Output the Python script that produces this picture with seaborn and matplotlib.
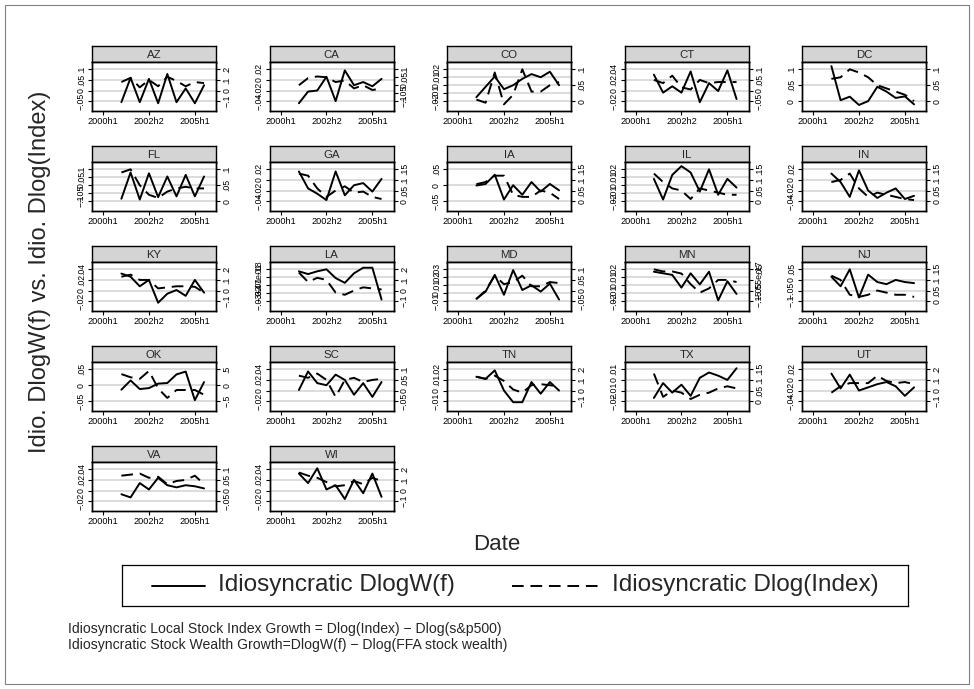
import matplotlib
matplotlib.use("Agg")
import matplotlib.pyplot as plt
import seaborn as sns
import pandas as pd
from matplotlib.patches import Rectangle

# ---------------- data ----------------
states = ["AZ", "CA", "CO", "CT", "DC", "FL", "GA", "IA", "IL", "IN", "KY",
          "LA", "MD", "MN", "NJ", "OK", "SC", "TN", "TX", "UT", "VA", "WI"]

# half-year index (0 = 2000h1)
periods = [2, 3, 4, 5, 6, 7, 8, 9, 10, 11]
xtick_pos = [0, 5, 10]
xtick_labels = ["2000h1", "2002h2", "2005h1"]

solid = {
    "AZ": [-0.055, 0.06, -0.055, 0.055, -0.06, 0.078, -0.055, 0.01, -0.06, 0.025],
    "CA": [-0.044, -0.022, -0.02, 0.006, -0.04, 0.018, -0.01, -0.004, -0.012, 0.002],
    "CO": [-0.015, -0.002, 0.011, -0.005, 0.0, 0.008, 0.014, 0.01, 0.017, 0.0],
    "CT": [0.03, -0.004, 0.008, -0.004, 0.036, -0.022, 0.014, -0.001, 0.038, -0.016],
    "DC": [0.11, 0.003, 0.014, -0.012, 0.0, 0.045, 0.03, 0.01, 0.015, -0.01],
    "FL": [-0.085, 0.08, -0.09, 0.075, -0.075, 0.055, -0.07, 0.065, -0.07, 0.055],
    "GA": [0.016, -0.016, -0.026, -0.038, 0.016, -0.029, -0.01, -0.006, -0.022, 0.002],
    "IA": [-0.001, 0.004, 0.033, -0.045, 0.0, -0.03, 0.01, -0.02, 0.004, -0.016],
    "IL": [0.008, -0.018, 0.013, 0.024, 0.016, -0.008, 0.02, -0.012, 0.008, -0.003],
    "IN": [0.012, -0.004, -0.032, 0.018, -0.02, -0.034, -0.024, -0.016, -0.036, -0.03],
    "KY": [0.032, 0.026, 0.008, 0.02, -0.023, -0.006, 0.001, -0.01, 0.02, -0.004],
    "LA": [0.0075, 0.004, 0.0075, 0.01, -0.001, -0.007, 0.005, 0.012, 0.012, -0.028],
    "MD": [-0.007, 0.002, 0.023, -0.002, 0.029, 0.004, 0.01, 0.002, 0.012, -0.008],
    "MN": [0.017, 0.015, 0.013, -0.003, 0.015, 0.001, 0.017, -0.019, 0.005, -0.011],
    "NJ": [0.015, -0.03, 0.05, -0.083, 0.025, -0.01, -0.02, 0.0, -0.01, -0.015],
    "OK": [-0.014, 0.015, -0.012, -0.009, 0.005, 0.007, 0.034, 0.043, -0.047, 0.01],
    "SC": [0.001, 0.036, 0.014, 0.01, 0.03, 0.02, -0.008, 0.014, -0.012, 0.016],
    "TN": [0.013, 0.011, 0.019, 0.0, -0.011, -0.011, 0.008, -0.003, 0.008, 0.0],
    "TX": [-0.017, -0.003, -0.012, -0.0045, -0.015, 0.002, 0.007, 0.004, 0.0, 0.011],
    "UT": [0.012, -0.016, 0.01, -0.02, -0.014, -0.008, -0.004, -0.012, -0.03, -0.014],
    "VA": [-0.007, -0.013, 0.014, 0.002, 0.024, 0.01, 0.006, 0.01, 0.008, 0.004],
    "WI": [0.032, 0.014, 0.042, 0.002, 0.01, -0.016, 0.02, -0.005, 0.032, -0.012],
}

dashed = {
    "AZ": [0.08, 0.12, 0.03, 0.1, 0.04, 0.13, 0.09, 0.04, 0.08, 0.07],
    "CA": [0.0, 0.045, 0.055, 0.05, 0.02, 0.03, -0.02, 0.0, -0.03, -0.02],
    "CO": [0.005, -0.005, 0.09, -0.01, 0.02, 0.1, 0.03, 0.03, 0.05, 0.06],
    "CT": [0.05, 0.035, 0.07, 0.015, 0.005, 0.05, 0.035, 0.04, 0.04, 0.04],
    "DC": [0.07, 0.075, 0.1, 0.09, 0.075, 0.05, 0.04, 0.03, 0.02, 0.0],
    "FL": [0.09, 0.1, 0.05, 0.02, 0.01, 0.03, 0.04, 0.045, 0.04, 0.04],
    "GA": [0.13, 0.12, 0.06, 0.02, 0.05, 0.07, 0.04, 0.045, 0.02, 0.01],
    "IA": [0.08, 0.09, 0.12, 0.12, 0.03, 0.02, 0.02, 0.05, 0.04, 0.01],
    "IL": [0.13, 0.09, 0.06, 0.05, 0.01, 0.06, 0.05, 0.04, 0.03, 0.03],
    "IN": [0.09, 0.1, 0.13, 0.06, 0.02, 0.04, 0.03, 0.02, 0.01, 0.005],
    "KY": [0.13, 0.15, 0.1, 0.1, 0.02, 0.03, 0.04, 0.04, 0.035, -0.02],
    "LA": [0.17, 0.08, 0.12, 0.1, -0.02, -0.04, 0.0, 0.03, 0.02, 0.01],
    "MD": [-0.04, 0.0, 0.07, 0.03, 0.04, 0.07, 0.02, 0.02, 0.04, 0.035],
    "MN": [0.05, 0.04, 0.04, 0.03, -0.02, -0.06, -0.04, 0.0, 0.0, -0.01],
    "NJ": [0.12, 0.1, 0.03, 0.02, 0.03, 0.05, 0.04, 0.03, 0.03, 0.02],
    "OK": [0.35, 0.25, 0.2, 0.45, -0.1, -0.4, -0.15, -0.15, -0.15, -0.3],
    "SC": [0.07, 0.06, 0.08, 0.05, -0.03, 0.05, 0.06, 0.04, 0.05, 0.055],
    "TN": [0.13, 0.11, 0.14, 0.09, 0.01, -0.02, 0.05, 0.06, 0.05, 0.04],
    "TX": [0.13, 0.02, 0.05, 0.04, 0.01, 0.03, 0.04, 0.06, 0.07, 0.06],
    "UT": [-0.02, 0.04, 0.07, 0.07, 0.07, 0.14, 0.09, 0.07, 0.08, 0.06],
    "VA": [0.07, 0.075, 0.08, 0.06, 0.065, 0.03, 0.045, 0.05, 0.07, 0.03],
    "WI": [0.17, 0.14, 0.12, 0.08, 0.04, 0.05, 0.09, 0.06, 0.12, 0.09],
}

left_ticks = {
    "AZ": [-0.05, 0, 0.05, 0.1], "CA": [-0.04, -0.02, 0, 0.02],
    "CO": [-0.02, -0.01, 0, 0.01, 0.02], "CT": [-0.02, 0, 0.02, 0.04],
    "DC": [0, 0.05, 0.1], "FL": [-0.1, -0.05, 0, 0.05, 0.1],
    "GA": [-0.04, -0.02, 0, 0.02], "IA": [-0.05, 0, 0.05],
    "IL": [-0.02, -0.01, 0, 0.01, 0.02], "IN": [-0.04, -0.02, 0, 0.02],
    "KY": [-0.02, 0, 0.02, 0.04], "LA": [-0.03, -0.02, -0.01, 3.47e-18, 0.01],
    "MD": [-0.01, 0, 0.01, 0.02, 0.03], "MN": [-0.02, -0.01, 0, 0.01, 0.02],
    "NJ": [-0.1, -0.05, 0, 0.05], "OK": [-0.05, 0, 0.05],
    "SC": [-0.02, 0, 0.02, 0.04], "TN": [-0.01, 0, 0.01, 0.02],
    "TX": [-0.02, -0.01, 0, 0.01], "UT": [-0.04, -0.02, 0, 0.02],
    "VA": [-0.02, 0, 0.02, 0.04], "WI": [-0.02, 0, 0.02, 0.04],
}

right_ticks = {
    "AZ": [-0.1, 0, 0.1, 0.2], "CA": [-0.1, -0.05, 0, 0.05, 0.1],
    "CO": [0, 0.05, 0.1], "CT": [-0.05, 0, 0.05, 0.1],
    "DC": [0, 0.05, 0.1], "FL": [0, 0.05, 0.1],
    "GA": [0, 0.05, 0.1, 0.15], "IA": [0, 0.05, 0.1, 0.15],
    "IL": [0, 0.05, 0.1, 0.15], "IN": [0, 0.05, 0.1, 0.15],
    "KY": [-0.1, 0, 0.1, 0.2], "LA": [-0.1, 0, 0.1, 0.2],
    "MD": [-0.05, 0, 0.05, 0.1], "MN": [-0.1, -0.05, -5.55e-17, 0.05],
    "NJ": [0, 0.05, 0.1, 0.15], "OK": [-0.5, 0, 0.5],
    "SC": [-0.05, 0, 0.05, 0.1], "TN": [-0.1, 0, 0.1, 0.2],
    "TX": [0, 0.05, 0.1, 0.15], "UT": [-0.1, 0, 0.1, 0.2],
    "VA": [-0.05, 0, 0.05, 0.1], "WI": [-0.1, 0, 0.1, 0.2],
}

legend_labels = ["Idiosyncratic DlogW(f)", "Idiosyncratic Dlog(Index)"]
note_lines = ["Idiosyncratic Local Stock Index Growth = Dlog(Index) \u2212 Dlog(s&p500)",
              "Idiosyncratic Stock Wealth Growth=DlogW(f) \u2212 Dlog(FFA stock wealth)"]
ylabel = "Idio. DlogW(f) vs. Idio. Dlog(Index)"
xlabel = "Date"

# ---------------- style ----------------
sns.set_style("white")
plt.rcParams["font.family"] = ["Liberation Sans", "DejaVu Sans"]

W, H = 974, 689
fig = plt.figure(figsize=(W / 100, H / 100), dpi=100)
fig.patch.set_facecolor("white")

DASH = (0, (6, 3.5))
LW = 1.4


def fr(x, y, w, h):
    return [x / W, 1 - (y + h) / H, w / W, h / H]


def stata(v):
    if v == 0:
        return "0"
    if abs(v) < 1e-9:
        s = f"{v:.2e}"
    else:
        s = f"{v:g}"
        if s.startswith("0."):
            s = s[1:]
        elif s.startswith("-0."):
            s = "-" + s[2:]
    return s.replace("-", "\u2212", 1) if s.startswith("-") else s


def lims(t):
    span = t[-1] - t[0]
    return t[0] - 0.31 * span, t[-1] + 0.23 * span


for i, st in enumerate(states):
    r, c = divmod(i, 5)
    L = 92 + 177.5 * c
    top = 46 + 100 * r

    # strip
    sax = fig.add_axes(fr(L, top, 124, 16))
    sax.set_facecolor("#d4d4d4")
    sax.set_xticks([]); sax.set_yticks([])
    for sp in sax.spines.values():
        sp.set_visible(True); sp.set_color("black"); sp.set_linewidth(1.0)
    sax.text(0.5, 0.45, st, ha="center", va="center", fontsize=8.2,
             transform=sax.transAxes)

    ax = fig.add_axes(fr(L, top + 16, 124, 49))
    df = pd.DataFrame({"period": periods, "solid": solid[st], "dashed": dashed[st]})
    sns.lineplot(data=df, x="period", y="solid", ax=ax, color="black", lw=LW,
                 estimator=None, sort=False)
    ax2 = ax.twinx()
    sns.lineplot(data=df, x="period", y="dashed", ax=ax2, color="black", lw=LW,
                 linestyle=DASH, estimator=None, sort=False)

    ax.set_xlim(-1.2, 12.3)
    ax.set_xticks(xtick_pos)
    ax.set_xticklabels(xtick_labels, fontsize=6.6)
    lt, rt = left_ticks[st], right_ticks[st]
    ax.set_ylim(*lims(lt)); ax2.set_ylim(*lims(rt))
    ax.set_yticks(lt)
    ax.set_yticklabels([stata(v) for v in lt], rotation=90, va="center", fontsize=6.3)
    ax2.set_yticks(rt)
    ax2.set_yticklabels([stata(v) for v in rt], rotation=90, va="center", fontsize=6.3)
    ax.set_xlabel(""); ax.set_ylabel(""); ax2.set_ylabel(""); ax2.set_xlabel("")

    ax.tick_params(axis="both", direction="out", length=3, width=0.8, pad=1.5,
                   bottom=True, left=True, colors="black")
    ax2.tick_params(axis="y", direction="out", length=3, width=0.8, pad=1.5,
                    right=True, colors="black")
    ax.set_axisbelow(True)
    ax.grid(axis="y", color="#dcdcdc", lw=1.4)
    ax.grid(axis="x", visible=False)
    ax2.grid(False)
    for a in (ax, ax2):
        for sp in a.spines.values():
            sp.set_visible(True); sp.set_color("black"); sp.set_linewidth(1.0)

# axis titles
fig.text(40 / W, 1 - 272 / H, ylabel, rotation=90, ha="center", va="center", fontsize=17)
fig.text(497 / W, 1 - 545 / H, xlabel, ha="center", va="center", fontsize=16)

# legend
lax = fig.add_axes(fr(122, 565, 786, 41))
lax.set_xlim(122, 908); lax.set_ylim(606, 565)
lax.set_xticks([]); lax.set_yticks([])
for sp in lax.spines.values():
    sp.set_visible(True); sp.set_color("black"); sp.set_linewidth(0.9)
lax.plot([152, 205], [585.5, 585.5], color="black", lw=LW)
lax.text(218, 585.5, legend_labels[0], va="center", ha="left", fontsize=17.5)
lax.plot([512, 600], [585.5, 585.5], color="black", lw=LW, linestyle=DASH)
lax.text(612, 585.5, legend_labels[1], va="center", ha="left", fontsize=17.5)

# notes
fig.text(68 / W, 1 - 629 / H, note_lines[0], ha="left", va="center", fontsize=10.1)
fig.text(68 / W, 1 - 645 / H, note_lines[1], ha="left", va="center", fontsize=10.1)

# outer frame
fig.add_artist(Rectangle((5 / W, 5 / H), 964 / W, 679 / H, transform=fig.transFigure,
                         fill=False, ec="#808080", lw=0.8))

fig.savefig("out.png", dpi=100)
